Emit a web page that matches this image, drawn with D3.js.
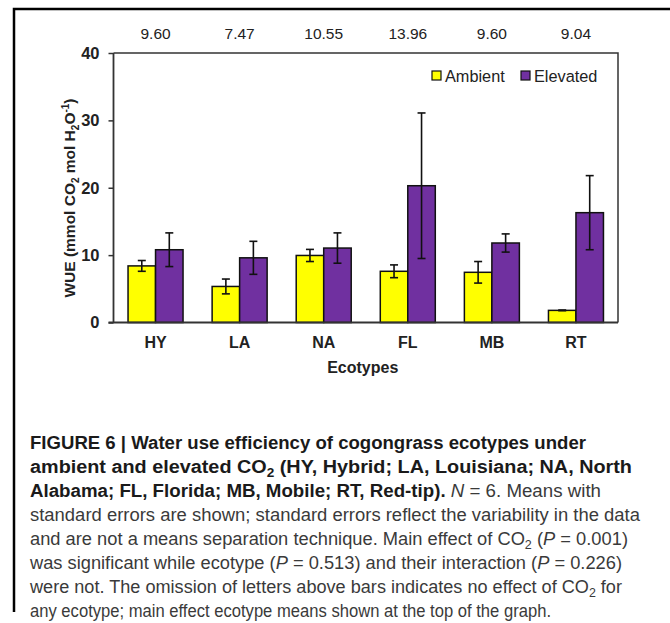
<!DOCTYPE html>
<html><head><meta charset="utf-8">
<script src="https://cdn.jsdelivr.net/npm/d3@7"></script>
<style>body{margin:0;background:#fff} svg{display:block}</style>
</head><body>
<svg id="c" width="670" height="623"></svg>
<script>
const ecotypes = ["HY","LA","NA","FL","MB","RT"];
const ambient = [8.4, 5.35, 9.95, 7.6, 7.45, 1.8];
const ambientSE = [0.8, 1.1, 0.9, 0.95, 1.6, 0.05];
const elevated = [10.8, 9.6, 11.05, 20.3, 11.8, 16.3];
const elevatedSE = [2.5, 2.45, 2.25, 10.8, 1.35, 5.5];
const ecotypeMeans = ["9.60","7.47","10.55","13.96","9.60","9.04"];
const yTicks = [0, 10, 20, 30, 40];
const seriesNames = ["Ambient","Elevated"];
const seriesColors = ["#ffff00","#7030a0"];

const captionLines = [
  [["b","FIGURE 6 | Water use efficiency of cogongrass ecotypes under"]],
  [["b","ambient and elevated CO"],["bsub","2"],["b"," (HY, Hybrid; LA, Louisiana; NA, North"]],
  [["b","Alabama; FL, Florida; MB, Mobile; RT, Red-tip). "],["i","N"],["r"," = 6. Means with"]],
  [["r","standard errors are shown; standard errors reflect the variability in the data"]],
  [["r","and are not a means separation technique. Main effect of CO"],["sub","2"],["r"," ("],["i","P"],["r"," = 0.001)"]],
  [["r","was significant while ecotype ("],["i","P"],["r"," = 0.513) and their interaction ("],["i","P"],["r"," = 0.226)"]],
  [["r","were not. The omission of letters above bars indicates no effect of CO"],["sub","2"],["r"," for"]],
  [["r","any ecotype; main effect ecotype means shown at the top of the graph."]]
];
const captionWidths = [556, 602, 571, 610, 598, 592, 592, 521];

const svg = d3.select("#c");
const F = "'Liberation Sans', Arial, sans-serif";

// frame (top + left)
svg.append("path").attr("d","M14,612 V9 H670").attr("fill","none").attr("stroke","#000").attr("stroke-width",2.5);

const L = 113.5, R = 618, T = 53, B = 322.5;
const x = d3.scaleBand().domain(ecotypes).range([L, R]).padding(0);
const bw = x.bandwidth();
const x1 = d3.scaleBand().domain(seriesNames).range([bw/2 - 27.5, bw/2 + 27.5]).padding(0);
const y = d3.scaleLinear().domain([0, 40]).range([B, T]);

const g = svg.append("g");

// bars
const rows = ecotypes.map((e,i)=>({e, vals:[{s:"Ambient",v:ambient[i],se:ambientSE[i],c:seriesColors[0]},{s:"Elevated",v:elevated[i],se:elevatedSE[i],c:seriesColors[1]}]}));
const grp = g.selectAll("g.grp").data(rows).join("g").attr("transform", d=>`translate(${x(d.e)},0)`);
grp.selectAll("rect").data(d=>d.vals).join("rect")
  .attr("x", d=>x1(d.s)).attr("width", x1.bandwidth())
  .attr("y", d=>y(d.v)).attr("height", d=>y(0)-y(d.v))
  .attr("fill", d=>d.c).attr("stroke","#111").attr("stroke-width",1.5);
// error bars
const eb = grp.selectAll("g.eb").data(d=>d.vals).join("g").attr("class","eb")
  .attr("transform", d=>`translate(${x1(d.s)+x1.bandwidth()/2},0)`);
eb.append("line").attr("x1",0).attr("x2",0).attr("y1",d=>y(d.v+d.se)).attr("y2",d=>y(d.v-d.se)).attr("stroke","#111").attr("stroke-width",1.6);
eb.append("line").attr("x1",-4).attr("x2",4).attr("y1",d=>y(d.v+d.se)).attr("y2",d=>y(d.v+d.se)).attr("stroke","#111").attr("stroke-width",1.6);
eb.append("line").attr("x1",-4).attr("x2",4).attr("y1",d=>y(d.v-d.se)).attr("y2",d=>y(d.v-d.se)).attr("stroke","#111").attr("stroke-width",1.6);

// plot box top/right
svg.append("path").attr("d",`M${L},${T} H${R} V${B}`).attr("fill","none").attr("stroke","#333").attr("stroke-width",1.5);

// y axis
const ya = svg.append("g").attr("transform",`translate(${L},0)`)
  .call(d3.axisLeft(y).tickValues(yTicks).tickSize(5).tickPadding(9));
ya.select(".domain").attr("stroke","#333").attr("stroke-width",1.8).attr("d",`M0,${T}V${B}`);
ya.selectAll(".tick line").attr("stroke","#333").attr("stroke-width",1.5);
ya.selectAll(".tick text").attr("font-family",F).attr("font-weight","bold").attr("font-size",16.5).attr("fill","#222");

// x axis
const xa = svg.append("g").attr("transform",`translate(0,${B})`)
  .call(d3.axisBottom(x).tickSize(0).tickPadding(14));
xa.select(".domain").attr("stroke","#333").attr("stroke-width",1.8).attr("d",`M${L-5},0H${R}`);
xa.selectAll(".tick text").attr("font-family",F).attr("font-weight","bold").attr("font-size",16).attr("fill","#222");

// ecotype means at top
svg.append("g").selectAll("text").data(ecotypes).join("text")
  .attr("x", (d)=>x(d)+bw/2).attr("y", 39).attr("text-anchor","middle")
  .attr("font-family",F).attr("font-size",15.5).attr("fill","#222")
  .text((d,i)=>ecotypeMeans[i]);

// axis titles
svg.append("text").attr("x",(L+R)/2 - 3).attr("y",373).attr("text-anchor","middle")
  .attr("font-family",F).attr("font-weight","bold").attr("font-size",16).attr("fill","#222").text("Ecotypes");
const yt = svg.append("text").attr("transform","translate(75,198) rotate(-90)").attr("text-anchor","middle")
  .attr("font-family",F).attr("font-weight","bold").attr("font-size",15.5).attr("fill","#222")
  .attr("textLength",199).attr("lengthAdjust","spacingAndGlyphs");
yt.append("tspan").text("WUE (mmol CO");
yt.append("tspan").attr("font-size",10).attr("dy",4).text("2");
yt.append("tspan").attr("dy",-4).text(" mol H");
yt.append("tspan").attr("font-size",10).attr("dy",4).text("2");
yt.append("tspan").attr("dy",-4).text("O");
yt.append("tspan").attr("font-size",10).attr("dy",-6).text("-1");
yt.append("tspan").attr("dy",6).text(")");

// legend
const lg = svg.append("g").attr("transform","translate(432,70)");
const li = lg.selectAll("g").data(seriesNames).join("g").attr("transform",(d,i)=>`translate(${i*89},0)`);
li.append("rect").attr("width",9).attr("height",9).attr("y",1).attr("fill",(d,i)=>seriesColors[i]).attr("stroke","#111").attr("stroke-width",1.2);
li.append("text").attr("x",13).attr("y",11.5).attr("font-family",F).attr("font-size",16.3).attr("fill","#222").text(d=>d);

// caption
const cap = svg.append("g");
captionLines.forEach((segs, i) => {
  const t = cap.append("text").attr("x",30).attr("y",449 + i*24)
    .attr("font-family",F).attr("font-size",17.5).attr("fill","#3a3a3a")
    .attr("textLength",captionWidths[i]).attr("lengthAdjust","spacingAndGlyphs");
  let shifted = false;
  segs.forEach(([k, s]) => {
    const ts = t.append("tspan").text(s);
    const bold = k === "b" || k === "bsub";
    if (bold) ts.attr("font-weight","bold").attr("fill","#1a1a1a");
    if (k === "i") ts.attr("font-style","italic");
    if (k === "sub" || k === "bsub") { ts.attr("font-size",12).attr("dy",4); shifted = true; }
    else if (shifted) { ts.attr("dy",-4); shifted = false; }
  });
});
</script>
</body></html>
